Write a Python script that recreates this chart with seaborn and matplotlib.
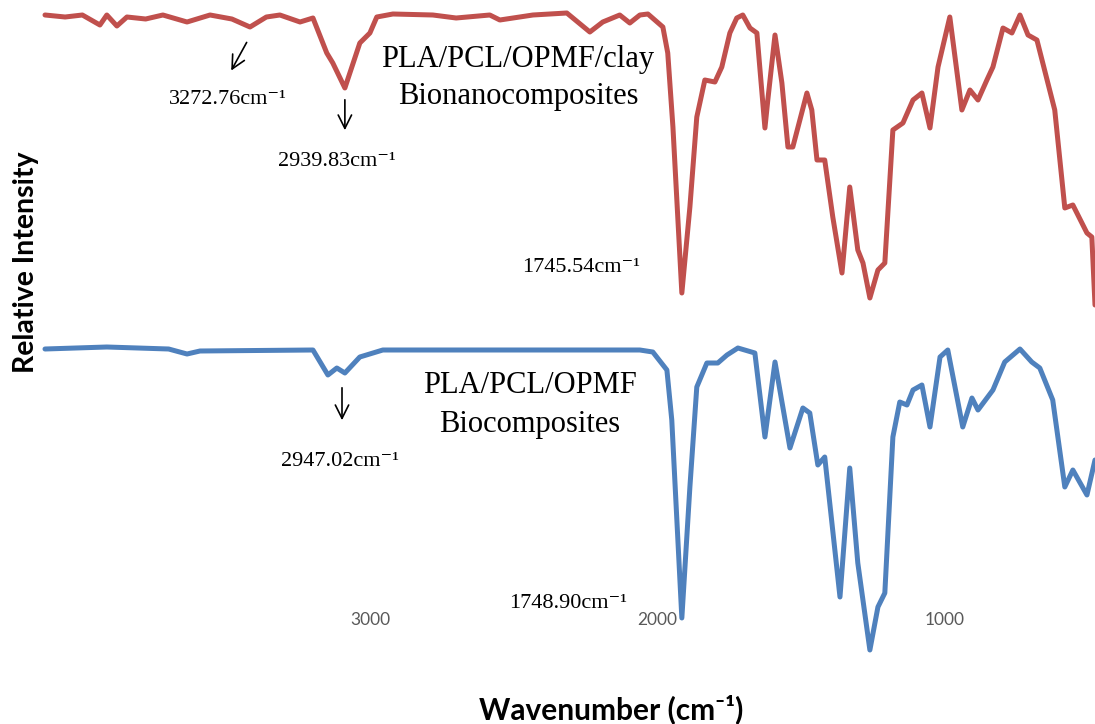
import numpy as np
import pandas as pd
import matplotlib
matplotlib.use("Agg")
import matplotlib.pyplot as plt
import seaborn as sns

# wavenumber (cm-1) and relative intensity (a.u.)
wn_clay = [4130, 4060, 4000, 3939, 3915, 3880, 3845, 3780, 3720, 3636, 3556, 3480, 3417,
           3360, 3313, 3243, 3198, 3150, 3129,
           3087, 3035, 3000, 2976, 2920, 2781, 2700, 2583, 2548, 2433, 2315, 2235, 2190, 2131,
           2096, 2061, 2033, 1981, 1964, 1946, 1915, 1887, 1863, 1835, 1800, 1776, 1748,
           1724, 1703, 1678, 1654, 1626, 1616, 1591, 1567, 1546, 1529, 1480, 1463, 1445,
           1418, 1390, 1358, 1331, 1303, 1285, 1261, 1233, 1209, 1181, 1146, 1111, 1080,
           1052, 1024, 983, 941, 913, 885, 854, 833, 798, 767, 739, 711, 680, 618, 583,
           555, 506, 489, 478]
int_clay = [590, 588, 590, 580, 590, 579, 588, 586, 590, 583, 590, 586, 578,
            588, 590, 583, 587, 552, 542,
            517, 562, 572, 588, 591, 590, 587, 590, 585, 590, 592, 573, 583, 590,
            582, 590, 591, 578, 552, 478, 312, 398, 488, 525, 523, 538, 572,
            587, 590, 577, 572, 477, 505, 570, 522, 458, 458, 512, 495, 445,
            445, 388, 332, 418, 355, 342, 307, 335, 342, 475, 482, 505, 512,
            477, 538, 588, 495, 515, 505, 525, 538, 577, 572, 590, 570, 565, 495, 397,
            400, 372, 368, 300]

wn_bio = [4130, 3915, 3700, 3636, 3591, 3198, 3146, 3115, 3087, 3035, 2955, 2061, 2016,
          1967, 1950, 1915, 1887, 1863, 1828, 1790, 1758, 1720, 1661, 1626, 1591, 1539,
          1494, 1470, 1442, 1418, 1365, 1331, 1303, 1261, 1233, 1209, 1181, 1157, 1132,
          1111, 1080, 1052, 1017, 990, 938, 906, 885, 833, 792, 739, 698, 670, 625, 583,
          555, 506, 478]
int_bio = [256, 258, 256, 251, 254, 255, 230, 237, 232, 248, 255, 255, 253,
           235, 185, -13, 118, 218, 242, 242, 250, 257, 252, 168, 243, 157,
           197, 192, 140, 148, 8, 137, 42, -45, -2, 12, 168, 203, 200,
           215, 220, 178, 248, 255, 178, 207, 195, 215, 243, 256, 243, 237, 205, 118,
           135, 110, 145]

clay_label = "PLA/PCL/OPMF/clay\nBionanocomposites"
bio_label = "PLA/PCL/OPMF\nBiocomposites"
peaks = ["3272.76", "2939.83", "1745.54", "2947.02", "1748.90"]
xticks = [3000, 2000, 1000]

df_clay = pd.DataFrame({"wn": wn_clay, "intensity": int_clay})
df_bio = pd.DataFrame({"wn": wn_bio, "intensity": int_bio})

sns.set_style("white")
serif = ["Liberation Serif", "DejaVu Serif"]
sans = ["Lato", "DejaVu Sans"]

fig = plt.figure(figsize=(10.95, 7.24), dpi=100)
ax = fig.add_axes([45 / 1095, 119 / 724, 1050 / 1095, 605 / 724])

line_kw = dict(lw=3.6, sort=False, clip_on=False, solid_joinstyle="round",
               solid_capstyle="round")
sns.lineplot(data=df_clay, x="wn", y="intensity", ax=ax, color="#C0504D", **line_kw)
sns.lineplot(data=df_bio, x="wn", y="intensity", ax=ax, color="#4F81BD", **line_kw)

ax.set_xlim(4130, 478)
ax.set_ylim(0, 605)
sns.despine(ax=ax, left=True, bottom=True)
ax.set_yticks([])
ax.set_xticks(xticks)
ax.set_xticklabels([str(t) for t in xticks], family=sans, fontsize=12.5, color="#595959")
ax.tick_params(axis="x", length=0, pad=5)
ax.set_xlabel("Wavenumber (cm⁻¹)", family=sans, fontsize=21.5, fontweight="bold",
              color="black")
ax.xaxis.set_label_coords(0.539, -0.147)
ax.set_ylabel("Relative Intensity", family=sans, fontsize=20.5, fontweight="bold",
              color="black")
ax.yaxis.set_label_coords(-0.006, 0.567)

# sample names
ax.text(2485, 527, clay_label, family=serif, fontsize=22, ha="center", va="center",
        linespacing=1.38, color="black")
ax.text(2444, 200, bio_label, family=serif, fontsize=22, ha="center", va="center",
        linespacing=1.45, color="black")

# peak labels
fs = 16
for txt, x, y in zip(peaks, [3494, 3115, 2266, 3104, 2311], [505, 443, 337, 143, 2]):
    ax.text(x, y, txt + "cm⁻¹", family=serif, fontsize=fs, ha="center", va="center",
            color="black")

arrow = dict(arrowstyle="->", color="black", lw=1.2, mutation_scale=24)
ax.annotate("", xy=(3487, 532), xytext=(3424, 565), arrowprops=arrow)
ax.annotate("", xy=(3087, 472), xytext=(3087, 508), arrowprops=arrow)
ax.annotate("", xy=(3097, 182), xytext=(3097, 220), arrowprops=arrow)

fig.savefig("out.png", dpi=100)
